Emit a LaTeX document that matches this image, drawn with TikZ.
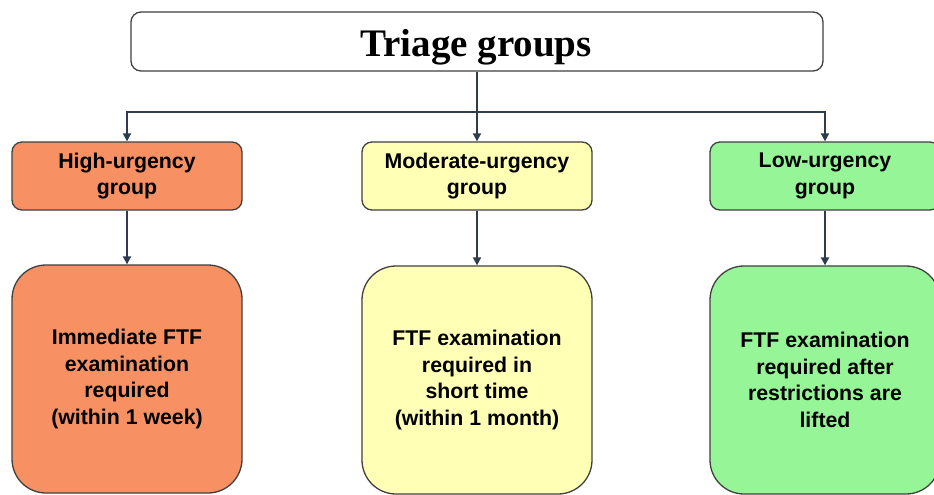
\documentclass[tikz,border=0pt]{standalone}
\usepackage{fontspec}
\setmainfont{Liberation Serif}
\setsansfont{Liberation Sans}
\usetikzlibrary{arrows.meta}
\definecolor{hiC}{RGB}{247,145,100}
\definecolor{moC}{RGB}{255,255,182}
\definecolor{loC}{RGB}{150,245,150}
\definecolor{edgeC}{RGB}{64,64,64}
\definecolor{arrC}{RGB}{47,60,80}
\begin{document}
\begin{tikzpicture}[x=1pt,y=-1pt,
  box/.style={draw=edgeC,line width=1.3pt,rectangle,align=center,
    font=\sffamily\bfseries\fontsize{21.3}{26.5}\selectfont,inner sep=0pt},
  smallbox/.style={box,rounded corners=10pt,minimum width=230pt,minimum height=68pt},
  bigbox/.style={box,rounded corners=34pt,minimum width=230pt,minimum height=228pt},
  arr/.style={draw=arrC,line width=1.8pt,-{Triangle[length=8pt,width=8pt]}}]
\clip (0,0) rectangle (934,495);
\fill[white] (0,0) rectangle (934,495);
\node[draw=edgeC,line width=1.3pt,rounded corners=10pt,minimum width=692pt,minimum height=59pt,
  font=\bfseries\fontsize{39}{40}\selectfont,inner sep=0pt] (title) at (477,41.5) {};
\node[font=\bfseries\fontsize{39}{40}\selectfont,inner sep=0pt,anchor=base] (ttext) at (476,57) {Triage groups};
\node[smallbox,fill=hiC] (high) at (127,176) {High-urgency\\group};
\node[smallbox,fill=moC] (mod) at (477,176) {Moderate-urgency\\group};
\node[smallbox,fill=loC] (low) at (825,176) {Low-urgency\\group};
\node[bigbox,fill=hiC] (hb) at (127,379) {Immediate FTF\\examination\\required\\(within 1 week)};
\node[bigbox,fill=moC] (mb) at (477,380) {FTF examination\\required in\\short time\\(within 1 month)};
\node[bigbox,fill=loC] (lb) at (825,380) {FTF examination\\required after\\restrictions are\\lifted};
\coordinate (bus) at (477,112);
\draw[arr] (title.south) -- (mod.north);
\draw[arr] (bus) -| (high.north);
\draw[arr] (bus) -| (low.north);
\draw[arr] (high.south) -- (hb.north);
\draw[arr] (mod.south) -- (mb.north);
\draw[arr] (low.south) -- (lb.north);
\end{tikzpicture}
\end{document}
